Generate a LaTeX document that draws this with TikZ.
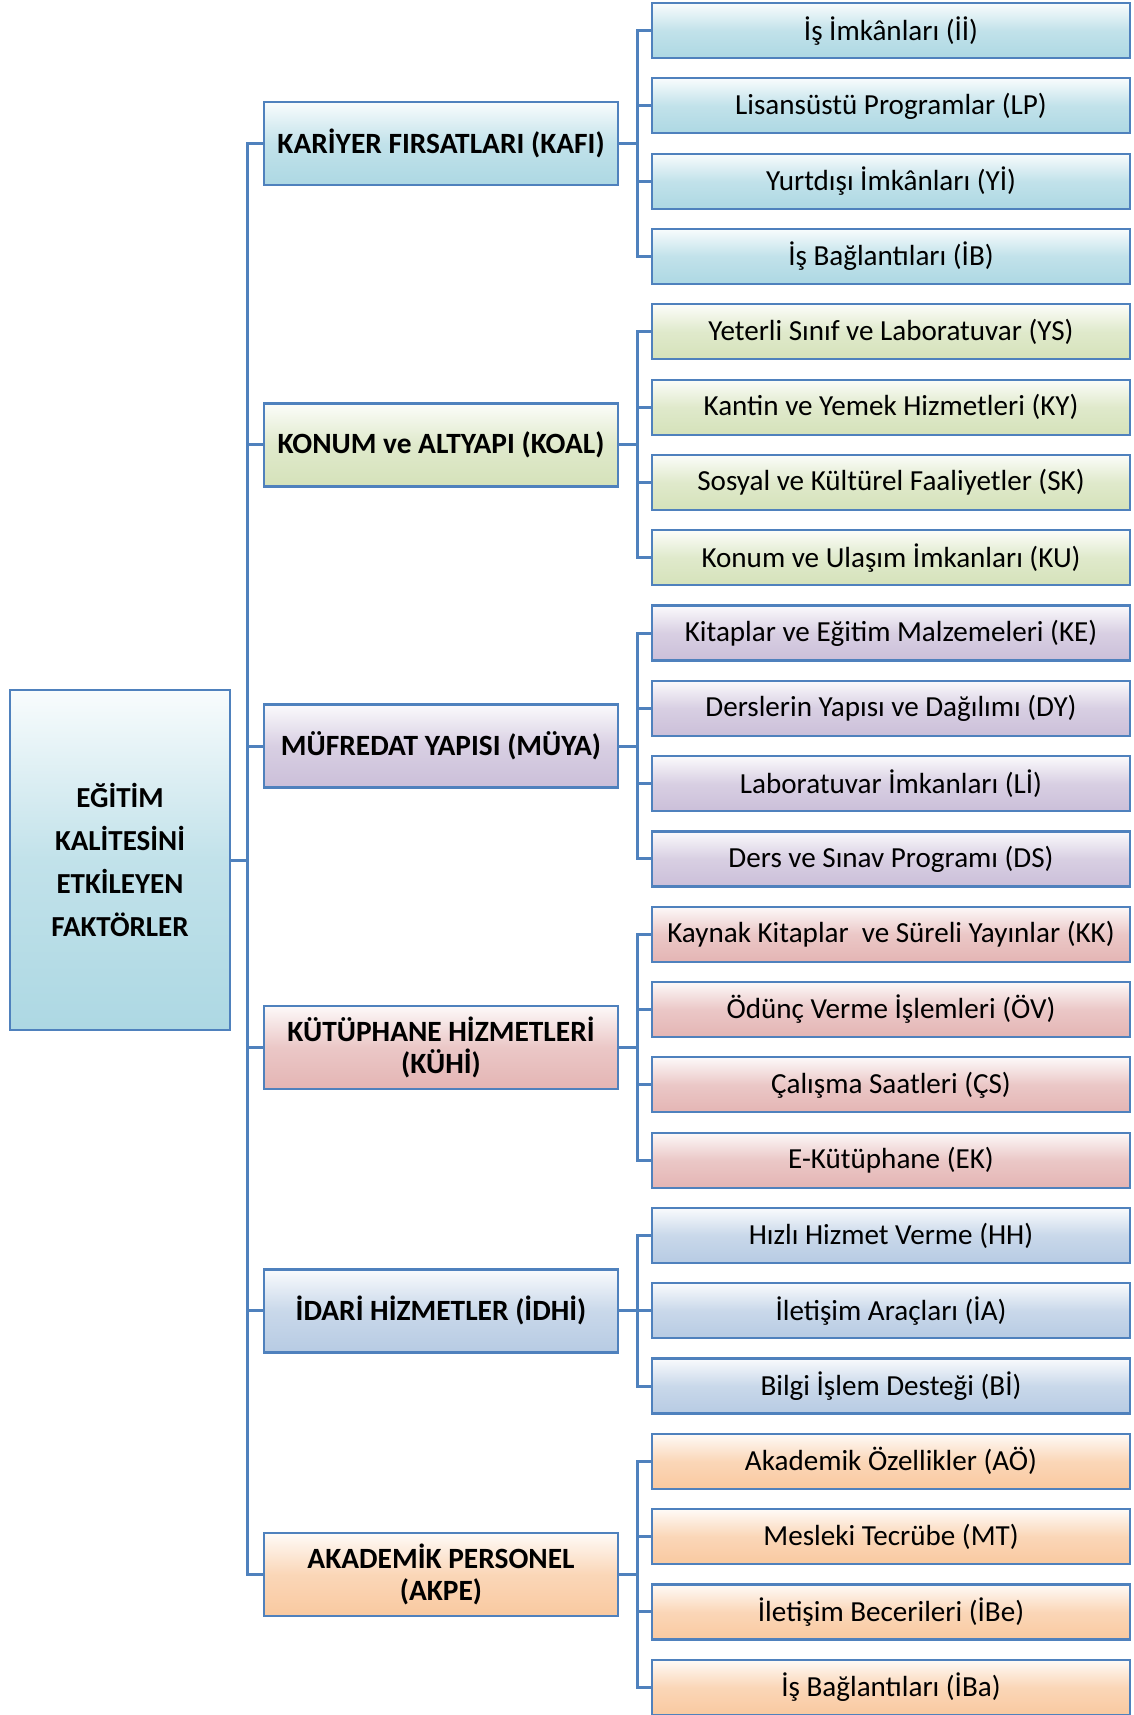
\documentclass[tikz,border=0pt]{standalone}
\usepackage{fontspec}
\setmainfont{Carlito}
\usetikzlibrary{calc}

\definecolor{edge}{HTML}{4F81BD}
\definecolor{cblue}{HTML}{ADD8E3}
\definecolor{cgreen}{HTML}{D5E2BA}
\definecolor{cpurple}{HTML}{CBBFD9}
\definecolor{cred}{HTML}{E4B5B4}
\definecolor{cslate}{HTML}{B7CBE3}
\definecolor{corange}{HTML}{F9C9A0}

\tikzset{
  box/.style={draw=edge, line width=2.4pt, rectangle, align=center, inner sep=2pt},
  fillc/.style={top color=#1!8!white, bottom color=#1, middle color=#1!75!white, shading angle=0},
  root/.style={box, minimum width=220pt, minimum height=340pt, font=\fontsize{29}{42.7}\selectfont\bfseries},
  mid/.style={box, minimum width=354pt, minimum height=83pt, font=\fontsize{29.4}{32}\selectfont\bfseries},
  leaf/.style={box, line width=2.2pt, minimum width=478pt, minimum height=55pt, font=\fontsize{29.1}{32}\selectfont},
  wire/.style={draw=edge, line width=3pt}
}

\begin{document}
\begin{tikzpicture}[x=1pt,y=-1pt]
\useasboundingbox (0,0) rectangle (1133,1715);

% root
\node[root, fillc=cblue] (root) at (120,860) {EĞİTİM\\KALİTESİNİ\\ETKİLEYEN\\FAKTÖRLER};

% main factors
\node[mid, fillc=cblue]   (kafi) at (441,143.6)  {KARİYER FIRSATLARI (KAFI)};
\node[mid, fillc=cgreen]  (koal) at (441,444.8)  {KONUM ve ALTYAPI (KOAL)};
\node[mid, fillc=cpurple] (muya) at (441,746.0)  {MÜFREDAT YAPISI (MÜYA)};
\node[mid, fillc=cred]    (kuhi) at (441,1047.2) {KÜTÜPHANE HİZMETLERİ\\(KÜHİ)};
\node[mid, fillc=cslate]  (idhi) at (441,1310.8) {İDARİ HİZMETLER (İDHİ)};
\node[mid, fillc=corange] (akpe) at (441,1574.4) {AKADEMİK PERSONEL\\(AKPE)};

% sub factors
\def\lx{891}
\node[leaf, fillc=cblue]   (l1)  at (\lx,30.6)   {İş İmkânları (İİ)};
\node[leaf, fillc=cblue]   (l2)  at (\lx,105.9)  {Lisansüstü Programlar (LP)};
\node[leaf, fillc=cblue]   (l3)  at (\lx,181.2)  {Yurtdışı İmkânları (Yİ)};
\node[leaf, fillc=cblue]   (l4)  at (\lx,256.5)  {İş Bağlantıları (İB)};
\node[leaf, fillc=cgreen]  (l5)  at (\lx,331.8)  {Yeterli Sınıf ve Laboratuvar (YS)};
\node[leaf, fillc=cgreen]  (l6)  at (\lx,407.1)  {Kantin ve Yemek Hizmetleri (KY)};
\node[leaf, fillc=cgreen]  (l7)  at (\lx,482.4)  {Sosyal ve Kültürel Faaliyetler (SK)};
\node[leaf, fillc=cgreen]  (l8)  at (\lx,557.7)  {Konum ve Ulaşım İmkanları (KU)};
\node[leaf, fillc=cpurple] (l9)  at (\lx,633.0)  {Kitaplar ve Eğitim Malzemeleri (KE)};
\node[leaf, fillc=cpurple] (l10) at (\lx,708.3)  {Derslerin Yapısı ve Dağılımı (DY)};
\node[leaf, fillc=cpurple] (l11) at (\lx,783.6)  {Laboratuvar İmkanları (Lİ)};
\node[leaf, fillc=cpurple] (l12) at (\lx,858.9)  {Ders ve Sınav Programı (DS)};
\node[leaf, fillc=cred]    (l13) at (\lx,934.2)  {Kaynak Kitaplar\ \ ve Süreli Yayınlar (KK)};
\node[leaf, fillc=cred]    (l14) at (\lx,1009.5) {Ödünç Verme İşlemleri (ÖV)};
\node[leaf, fillc=cred]    (l15) at (\lx,1084.8) {Çalışma Saatleri (ÇS)};
\node[leaf, fillc=cred]    (l16) at (\lx,1160.1) {E-Kütüphane (EK)};
\node[leaf, fillc=cslate]  (l17) at (\lx,1235.4) {Hızlı Hizmet Verme (HH)};
\node[leaf, fillc=cslate]  (l18) at (\lx,1310.7) {İletişim Araçları (İA)};
\node[leaf, fillc=cslate]  (l19) at (\lx,1386.0) {Bilgi İşlem Desteği (Bİ)};
\node[leaf, fillc=corange] (l20) at (\lx,1461.3) {Akademik Özellikler (AÖ)};
\node[leaf, fillc=corange] (l21) at (\lx,1536.6) {Mesleki Tecrübe (MT)};
\node[leaf, fillc=corange] (l22) at (\lx,1611.9) {İletişim Becerileri (İBe)};
\node[leaf, fillc=corange] (l23) at (\lx,1687.2) {İş Bağlantıları (İBa)};

% trunk from the root to the main factors
\coordinate (tr) at (247,860);
\draw[wire] (root.east) -- (tr);
\foreach \m in {kafi,koal,muya,kuhi,idhi,akpe}
  \draw[wire] (tr) |- (\m.west);

% branches from each main factor to its sub factors
\foreach \m/\list in {kafi/{l1,l2,l3,l4}, koal/{l5,l6,l7,l8}, muya/{l9,l10,l11,l12},
                      kuhi/{l13,l14,l15,l16}, idhi/{l17,l18,l19}, akpe/{l20,l21,l22,l23}} {
  \coordinate (b-\m) at ($(\m.east)+(18,0)$);
  \draw[wire] (\m.east) -- (b-\m);
  \foreach \l in \list
    \draw[wire] (b-\m) |- (\l.west);
}
\end{tikzpicture}
\end{document}
